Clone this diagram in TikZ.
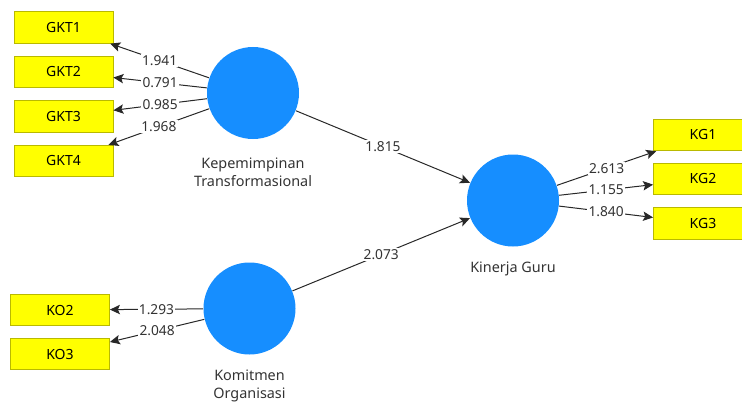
\documentclass[tikz,border=0pt]{standalone}
\usepackage{fontspec}
\setmainfont{Noto Sans}
\usetikzlibrary{arrows.meta}

\definecolor{lvblue}{RGB}{22,142,255}
\definecolor{indyellow}{RGB}{255,255,0}
\definecolor{indborder}{RGB}{185,185,0}
\definecolor{pathgray}{RGB}{40,40,40}

\tikzset{every picture/.style={line width=0.75pt}}
\tikzset{
  latent/.style={circle, fill=lvblue, draw=none, minimum size=69pt, inner sep=0pt},
  indicator/.style={rectangle, fill=indyellow, draw=indborder, line width=0.6pt,
    minimum width=74.25pt, minimum height=23.6pt, inner sep=0pt, font=\fontsize{10.5}{12}\selectfont},
  lvname/.style={align=center, text=black!80, font=\fontsize{10.8}{13.5}\selectfont},
  coef/.style={fill=white, inner sep=1pt, text=black!80, font=\fontsize{10.3}{12}\selectfont},
  pathline/.style={draw=pathgray, line width=0.75pt, -{Stealth[length=7.5pt,width=7pt,inset=1.5pt]}}
}

\begin{document}
\begin{tikzpicture}[x=0.75pt,y=0.75pt,yscale=-1,xscale=1]
\useasboundingbox (0,0) rectangle (742,403);

% Latent variables
\node [latent] (KT) at (253,93) {};
\node [latent] (KO) at (249.5,308.5) {};
\node [latent] (KG) at (513,200.5) {};

% Text Node
\node [lvname] (KTname) at (253,172) {Kepemimpinan\\Transformasional};
% Text Node
\node [lvname] (KOname) at (249.5,386) {Komitmen\\Organisasi};
% Text Node
\node [lvname] (KGname) at (513,269) {Kinerja Guru};

% Indicators
\node [indicator] (GKT1) at (63.5,27.5) {GKT1};
\node [indicator] (GKT2) at (63.5,72) {GKT2};
\node [indicator] (GKT3) at (63.5,116.5) {GKT3};
\node [indicator] (GKT4) at (63.5,161) {GKT4};
\node [indicator] (KO2) at (60,310) {KO2};
\node [indicator] (KO3) at (60,354) {KO3};
\node [indicator] (KG1) at (703,135) {KG1};
\node [indicator] (KG2) at (703,179) {KG2};
\node [indicator] (KG3) at (703,223.5) {KG3};

% Outer loadings
\draw [pathline] (KT) -- node [coef] {1.941} (GKT1);
\draw [pathline] (KT) -- node [coef] {0.791} (GKT2);
\draw [pathline] (KT) -- node [coef] {0.985} (GKT3);
\draw [pathline] (KT) -- node [coef] {1.968} (GKT4);
\draw [pathline] (KO) -- node [coef] {1.293} (KO2);
\draw [pathline] (KO) -- node [coef] {2.048} (KO3);
\draw [pathline] (KG) -- node [coef] {2.613} (KG1);
\draw [pathline] (KG) -- node [coef] {1.155} (KG2);
\draw [pathline] (KG) -- node [coef] {1.840} (KG3);

% Inner paths
\draw [pathline] (KT) -- node [coef] {1.815} (KG);
\draw [pathline] (KO) -- node [coef] {2.073} (KG);
\end{tikzpicture}
\end{document}
